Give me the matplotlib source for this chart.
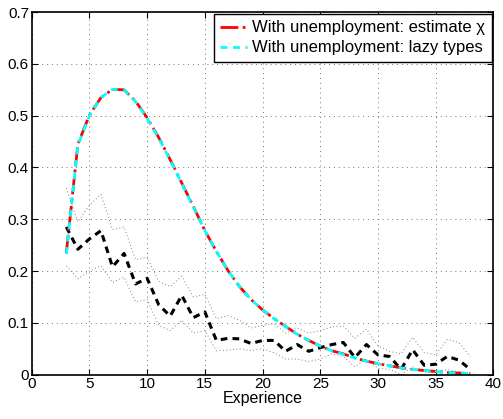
import numpy as np
import matplotlib
matplotlib.use("Agg")
import matplotlib.pyplot as plt

plt.rcParams['font.family'] = ['Liberation Sans', 'DejaVu Sans']

# experience (years)
exper = list(range(3, 39))

# model: with unemployment, estimate chi
est_chi = [0.235, 0.445, 0.501, 0.535, 0.551, 0.550, 0.528, 0.496, 0.458, 0.415,
           0.370, 0.325, 0.278, 0.238, 0.201, 0.170, 0.145, 0.125, 0.108, 0.093,
           0.078, 0.066, 0.055, 0.046, 0.040, 0.032, 0.026, 0.021, 0.017, 0.013,
           0.010, 0.008, 0.006, 0.004, 0.003, 0.002]

# model: with unemployment, lazy types
lazy = [0.233, 0.443, 0.500, 0.535, 0.551, 0.550, 0.527, 0.495, 0.457, 0.414,
        0.369, 0.324, 0.278, 0.238, 0.201, 0.170, 0.145, 0.125, 0.108, 0.093,
        0.078, 0.066, 0.055, 0.046, 0.039, 0.032, 0.026, 0.021, 0.017, 0.013,
        0.010, 0.008, 0.006, 0.004, 0.003, 0.002]

# data and confidence band
data = [0.285, 0.242, 0.262, 0.278, 0.208, 0.234, 0.175, 0.186, 0.135, 0.113,
        0.153, 0.110, 0.121, 0.066, 0.070, 0.069, 0.060, 0.066, 0.066, 0.045,
        0.058, 0.045, 0.052, 0.058, 0.062, 0.033, 0.058, 0.038, 0.035, 0.010,
        0.048, 0.018, 0.020, 0.035, 0.028, 0.010]
upper = [0.360, 0.295, 0.327, 0.348, 0.280, 0.285, 0.222, 0.227, 0.180, 0.170,
         0.190, 0.150, 0.155, 0.108, 0.114, 0.105, 0.090, 0.095, 0.098, 0.080,
         0.090, 0.080, 0.085, 0.092, 0.094, 0.070, 0.088, 0.055, 0.045, 0.040,
         0.072, 0.043, 0.038, 0.068, 0.062, 0.035]
lower = [0.210, 0.185, 0.200, 0.210, 0.178, 0.188, 0.140, 0.145, 0.095, 0.085,
         0.105, 0.080, 0.085, 0.046, 0.047, 0.050, 0.046, 0.050, 0.042, 0.030,
         0.030, 0.025, 0.030, 0.040, 0.035, 0.015, 0.030, 0.012, 0.010, 0.000,
         0.015, 0.005, 0.004, 0.010, 0.005, 0.000]

fig = plt.figure(figsize=(5.03, 4.19), dpi=100)
ax = fig.add_axes([0.063, 0.106, 0.918, 0.865])

ax.plot(exper, upper, linestyle=(0, (1, 2.5)), color='0.5', linewidth=0.7)
ax.plot(exper, lower, linestyle=(0, (1, 2.5)), color='0.5', linewidth=0.7)
ax.plot(exper, data, linestyle='--', color='black', linewidth=2.2, dashes=(2.2, 1.7))
ax.plot(exper, est_chi, linestyle='-.', color='red', linewidth=2,
        label='With unemployment: estimate \u03c7')
ax.plot(exper, lazy, linestyle='--', color='cyan', linewidth=2, dashes=(2.5, 2),
        label='With unemployment: lazy types')

ax.set_xlim(0, 40)
ax.set_ylim(0, 0.7)
ax.set_xticks(np.arange(0, 41, 5))
ax.set_yticks(np.arange(0, 0.71, 0.1))
ax.set_yticklabels(['0', '0.1', '0.2', '0.3', '0.4', '0.5', '0.6', '0.7'])
ax.tick_params(direction='in', top=True, right=True, labelsize=11, length=4, pad=2)
ax.grid(True, linestyle=(0, (1, 4)), color='0.45', linewidth=0.7)
ax.set_xlabel('Experience', fontsize=11.5, labelpad=0)
for s in ax.spines.values():
    s.set_linewidth(1.2)

leg = ax.legend(loc='upper right', fontsize=12, fancybox=False, framealpha=1,
                edgecolor='black', handlelength=1.6, handletextpad=0.3,
                borderpad=0.4, labelspacing=0.3, borderaxespad=0.1)
leg.get_frame().set_linewidth(1.0)

fig.savefig('out.png', dpi=100)
